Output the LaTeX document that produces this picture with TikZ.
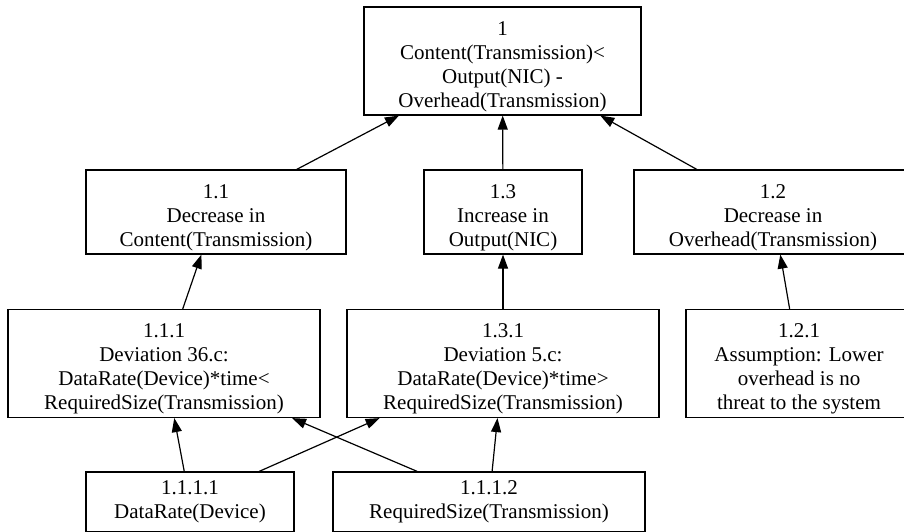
\documentclass[tikz,border=0pt]{standalone}
\usepackage{fontspec}
\setmainfont{Liberation Serif}
\usetikzlibrary{arrows.meta}

\newcommand{\lift}{\rule{0pt}{25pt}}

\begin{document}
\begin{tikzpicture}[x=1pt, y=-1pt,
		goal/.style={draw, rectangle, line width=1.2pt, inner sep=0pt, align=center, font=\fontsize{21}{24}\selectfont},
		link/.style={line width=1.2pt, -{Triangle[length=14pt, width=10pt]}}]
		\clip (0,0) rectangle (904,532);
		\node[goal, minimum width=277pt, minimum height=108pt] (g1) at (502.5,61)
			{\lift 1\\Content(Transmission)<\\Output(NIC) -\\Overhead(Transmission)};
		\node[goal, minimum width=260pt, minimum height=84pt] (g11) at (216,212)
			{\lift 1.1\\Decrease in\\Content(Transmission)};
		\node[goal, minimum width=158pt, minimum height=84pt] (g13) at (503,212)
			{\lift 1.3\\Increase in\\Output(NIC)};
		\node[goal, minimum width=278pt, minimum height=84pt] (g12) at (773,212)
			{\lift 1.2\\Decrease in\\Overhead(Transmission)};
		\node[goal, minimum width=312pt, minimum height=108pt] (g111) at (164,363.5)
			{\lift 1.1.1\\Deviation 36.c:\\DataRate(Device)*time<\\RequiredSize(Transmission)};
		\node[goal, minimum width=312pt, minimum height=108pt] (g131) at (503,363.5)
			{\lift 1.3.1\\Deviation 5.c:\\DataRate(Device)*time>\\RequiredSize(Transmission)};
		\node[goal, minimum width=226pt, minimum height=108pt] (g121) at (799,363.5)
			{\lift 1.2.1\\Assumption: Lower\\overhead is no\\threat to the system};
		\node[goal, minimum width=208pt, minimum height=60pt] (g1111) at (190,502)
			{1.1.1.1\\DataRate(Device)};
		\node[goal, minimum width=312pt, minimum height=60pt] (g1112) at (489,502)
			{1.1.1.2\\RequiredSize(Transmission)};
		\draw[link] (g11) -- (g1);
		\draw[link] (g13) -- (g1);
		\draw[link] (g12) -- (g1);
		\draw[link] (g111) -- (g11);
		\draw[link] (g131) -- (g13);
		\draw[link] (g121) -- (g12);
		\draw[link] (g1111) -- (g111);
		\draw[link] (g1111) -- (g131);
		\draw[link] (g1112) -- (g111);
		\draw[link] (g1112) -- (g131);
\end{tikzpicture}
\end{document}
